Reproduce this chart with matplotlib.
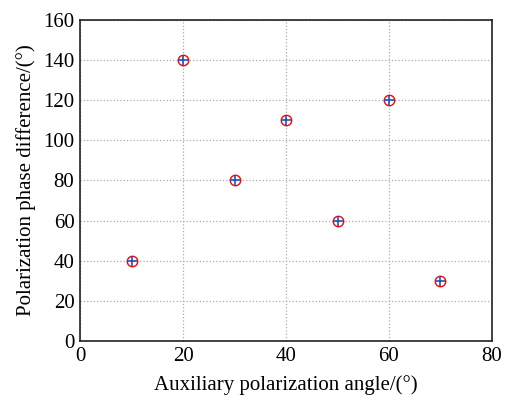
import matplotlib
matplotlib.use("Agg")
import matplotlib.pyplot as plt

angle = [10, 20, 30, 40, 50, 60, 70]
phase_diff = [40, 140, 80, 110, 60, 120, 30]

plt.rcParams['font.family'] = ['Liberation Serif', 'DejaVu Serif']

fig = plt.figure(figsize=(5.11, 3.95), dpi=100)
ax = fig.add_axes([0.1566, 0.1367, 0.8062, 0.8127])

ax.plot(angle, phase_diff, 'o', ms=7.5, mfc='none', mec='red', mew=1.0)
ax.plot(angle, phase_diff, '+', ms=7.5, color='#2050c0', mew=1.2)

ax.set_xlim(0, 80)
ax.set_ylim(0, 160)
ax.set_xticks(range(0, 81, 20))
ax.set_yticks(range(0, 161, 20))
ax.tick_params(direction='in', length=0, labelsize=15, pad=4)
ax.grid(True, linestyle=':', color='#aaaaaa', linewidth=0.9)
for s in ax.spines.values():
    s.set_linewidth(1.2)
    s.set_color('#222222')

ax.set_xlabel('Auxiliary polarization angle/(°)', fontsize=15, labelpad=7)
ax.set_ylabel('Polarization phase difference/(°)', fontsize=15, labelpad=5)

fig.savefig('out.png', dpi=100)
